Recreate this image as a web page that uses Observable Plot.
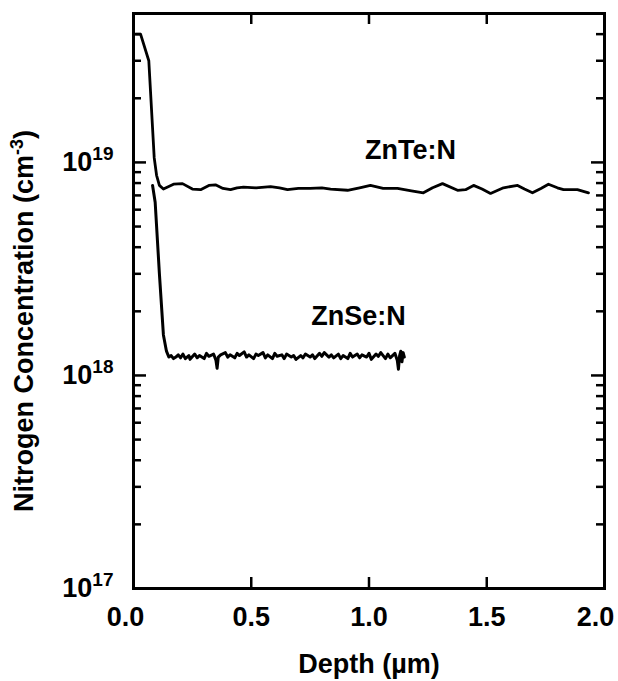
<!DOCTYPE html>
<html><head><meta charset="utf-8">
<script src="https://cdn.jsdelivr.net/npm/d3@7"></script>
<script src="https://cdn.jsdelivr.net/npm/@observablehq/plot@0.6"></script>
<style>body{margin:0;background:#fff}</style>
</head><body><div id="chart"></div>
<script>
// ZnTe:N profile (depth in µm, concentration in cm^-3)
const znteDepth = [0.01,0.03,0.065,0.088,0.098,0.11,0.127,0.17,0.208,0.25,0.285,0.32,0.348,0.38,0.412,0.44,0.467,0.52,0.582,0.62,0.654,0.70,0.75,0.80,0.837,0.909,0.96,1.006,1.06,1.121,1.18,1.231,1.27,1.312,1.376,1.41,1.444,1.48,1.516,1.571,1.631,1.66,1.694,1.73,1.762,1.80,1.826,1.885,1.932];
const znteConc = [4.0e19,4.0e19,3.0e19,1.05e19,8.7e18,7.8e18,7.5e18,7.9e18,7.95e18,7.5e18,7.45e18,7.8e18,7.85e18,7.55e18,7.45e18,7.6e18,7.65e18,7.6e18,7.7e18,7.6e18,7.45e18,7.55e18,7.55e18,7.6e18,7.5e18,7.4e18,7.6e18,7.8e18,7.55e18,7.55e18,7.35e18,7.2e18,7.6e18,7.95e18,7.4e18,7.45e18,7.8e18,7.5e18,7.15e18,7.6e18,7.8e18,7.5e18,7.2e18,7.55e18,7.9e18,7.6e18,7.45e18,7.45e18,7.2e18];

// ZnSe:N profile
const znseDepth = [0.081,0.092,0.110,0.127,0.14,0.15,0.16,0.17,0.18,0.19,0.20,0.21,0.22,0.235,0.24,0.26,0.27,0.28,0.30,0.31,0.32,0.34,0.35,0.355,0.36,0.37,0.39,0.40,0.41,0.43,0.44,0.45,0.47,0.48,0.49,0.51,0.52,0.53,0.55,0.56,0.57,0.59,0.60,0.61,0.63,0.64,0.65,0.67,0.68,0.69,0.71,0.72,0.73,0.75,0.76,0.77,0.79,0.80,0.81,0.83,0.84,0.85,0.87,0.88,0.89,0.91,0.92,0.93,0.95,0.96,0.97,0.99,1.00,1.01,1.03,1.04,1.05,1.07,1.08,1.09,1.11,1.12,1.125,1.13,1.135,1.14,1.145,1.15];
const znseConc = [7.8e18,6.5e18,3.0e18,1.55e18,1.3e18,1.22e18,1.24e18,1.20e18,1.22e18,1.25e18,1.21e18,1.26e18,1.20e18,1.24e18,1.19e18,1.26e18,1.21e18,1.24e18,1.20e18,1.27e18,1.23e18,1.26e18,1.18e18,1.08e18,1.22e18,1.25e18,1.28e18,1.22e18,1.25e18,1.21e18,1.27e18,1.24e18,1.29e18,1.22e18,1.25e18,1.20e18,1.26e18,1.24e18,1.28e18,1.21e18,1.25e18,1.20e18,1.27e18,1.23e18,1.25e18,1.20e18,1.26e18,1.22e18,1.24e18,1.19e18,1.24e18,1.21e18,1.26e18,1.22e18,1.25e18,1.20e18,1.27e18,1.23e18,1.28e18,1.22e18,1.25e18,1.21e18,1.26e18,1.20e18,1.24e18,1.20e18,1.27e18,1.22e18,1.26e18,1.21e18,1.25e18,1.22e18,1.27e18,1.19e18,1.26e18,1.23e18,1.28e18,1.20e18,1.26e18,1.21e18,1.27e18,1.18e18,1.07e18,1.24e18,1.30e18,1.16e18,1.28e18,1.22e18];

// Labels
const labelText = ["ZnTe:N","ZnSe:N"];
const labelDepth = [1.176, 0.955];
const labelConc = [1.14e19, 1.9e18];

// Ticks
const xTickLabels = [0, 0.5, 1.0, 1.5, 2.0];
const xInnerTicks = [0.5, 1.0, 1.5];
const yMajor = [1e17, 1e18, 1e19];
const yMinor = [2e17,3e17,4e17,5e17,6e17,7e17,8e17,9e17,2e18,3e18,4e18,5e18,6e18,7e18,8e18,9e18,2e19,3e19,4e19];

const W = 618, H = 681, mL = 133, mR = 14, mT = 13, mB = 93;
const innerW = W - mL - mR, innerH = H - mT - mB;

const znte = znteDepth.map((d, i) => ({depth: d, conc: znteConc[i]}));
const znse = znseDepth.map((d, i) => ({depth: d, conc: znseConc[i]}));
const labels = labelText.map((t, i) => ({text: t, depth: labelDepth[i], conc: labelConc[i]}));

const plot = Plot.plot({
  width: W, height: H,
  marginLeft: mL, marginRight: mR, marginTop: mT, marginBottom: mB,
  style: {fontFamily: "'Liberation Sans', Arial, sans-serif", fontSize: "27px", fontWeight: "bold", color: "#000", background: "#fff"},
  x: {domain: [0, 2]},
  y: {type: "log", domain: [1e17, 5e19]},
  marks: [
    Plot.line(znte, {x: "depth", y: "conc", stroke: "#000", strokeWidth: 2.8}),
    Plot.line(znse, {x: "depth", y: "conc", stroke: "#000", strokeWidth: 3}),
    Plot.text(labels, {x: "depth", y: "conc", text: "text", fontSize: 27, fontWeight: "bold", fill: "#000"}),
    // inward ticks
    Plot.tickX(xInnerTicks, {x: d => d, insetTop: innerH - 11, stroke: "#000", strokeWidth: 2.5}),
    Plot.tickX(xInnerTicks, {x: d => d, insetBottom: innerH - 11, stroke: "#000", strokeWidth: 2.5}),
    Plot.tickY(yMajor, {y: d => d, insetRight: innerW - 13, stroke: "#000", strokeWidth: 2.5}),
    Plot.tickY(yMajor, {y: d => d, insetLeft: innerW - 13, stroke: "#000", strokeWidth: 2.5}),
    Plot.tickY(yMinor, {y: d => d, insetRight: innerW - 8, stroke: "#000", strokeWidth: 2.5}),
    Plot.tickY(yMinor, {y: d => d, insetLeft: innerW - 8, stroke: "#000", strokeWidth: 2.5}),
    Plot.frame({stroke: "#000", strokeWidth: 3}),
    Plot.axisX(xTickLabels, {tickSize: 0, tickPadding: 18, tickFormat: d => d.toFixed(1),
      label: "Depth (µm)", labelAnchor: "center", labelOffset: 84, labelArrow: "none"}),
    Plot.axisY(yMajor, {tickSize: 0, tickPadding: 20, tickFormat: d => "10^" + Math.round(Math.log10(d)),
      label: "Nitrogen Concentration (cm-3)", labelAnchor: "center", labelOffset: 120, labelArrow: "none"})
  ]
});

const ns = "http://www.w3.org/2000/svg";
function ts(parent, txt, attrs) {
  const t = document.createElementNS(ns, "tspan");
  t.textContent = txt;
  for (const k in attrs) t.setAttribute(k, attrs[k]);
  parent.appendChild(t);
  return t;
}
plot.querySelectorAll("text").forEach(el => {
  const s = el.textContent;
  let m = s.match(/^10\^(\d+)$/);
  if (m) {
    el.textContent = "";
    ts(el, "10", {});
    ts(el, m[1], {dy: "-11", "font-size": "19"});
    return;
  }
  if (s === "0.0") el.setAttribute("dx", "-8");
  if (s === "2.0") el.setAttribute("dx", "-9");
  if (s.includes("(cm-3)")) {
    el.textContent = "";
    el.setAttribute("dx", "-20");
    ts(el, "Nitrogen Concentration (cm", {});
    ts(el, "-3", {dy: "-10", "font-size": "18"});
    ts(el, ")", {dy: "10"});
  }
});
document.getElementById("chart").appendChild(plot);
</script>
</body></html>
